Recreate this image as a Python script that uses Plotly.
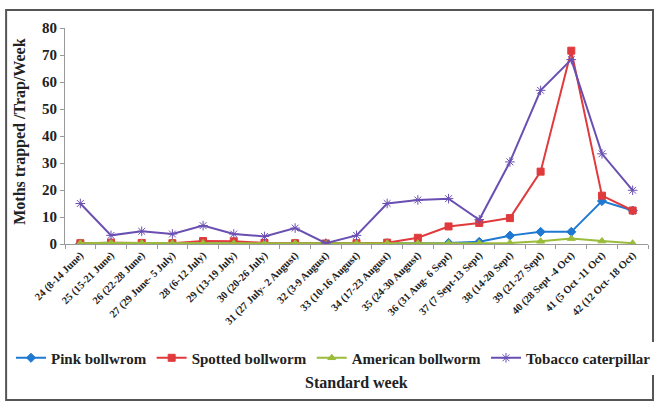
import plotly.graph_objects as go

weeks = ["24 (8-14 June)", "25 (15-21 June)", "26 (22-28 June)", "27 (29 June- 5 July)",
         "28 (6-12 July)", "29 (13-19 July)", "30 (20-26 July)", "31 (27 July- 2 August)",
         "32 (3-9 August)", "33 (10-16 August)", "34 (17-23 August)", "35 (24-30 August)",
         "36 (31 Aug- 6 Sept)", "37 (7 Sept-13 Sept)", "38 (14-20 Sept)", "39 (21-27 Sept)",
         "40 (28 Sept -4 Oct)", "41 (5 Oct -11 Oct)", "42 (12 Oct- 18 Oct)"]

pink = [0.2, 0.3, 0.2, 0.2, 0.3, 0.2, 0.2, 0.2, 0.1, 0.2, 0.3, 0.3, 0.4, 0.8, 3.1, 4.5, 4.5, 15.9, 12.4]
spotted = [0.3, 0.5, 0.4, 0.3, 1.1, 1.0, 0.4, 0.3, 0.2, 0.3, 0.5, 2.3, 6.5, 7.8, 9.6, 26.8, 71.6, 17.9, 12.4]
american = [0.3, 0.5, 0.4, 0.3, 0.4, 0.3, 0.3, 0.3, 0.2, 0.3, 0.3, 0.3, 0.3, 0.3, 0.4, 1.0, 2.0, 1.1, 0.3]
tobacco = [15, 3.2, 4.7, 3.7, 6.8, 3.7, 2.8, 5.9, 0.3, 3.2, 15, 16.3, 16.8, 9, 30.4, 56.9, 68.3, 33.4, 19.9]

font = "Liberation Serif"

fig = go.Figure()
series = [
    ("Pink bollwrom", pink, "#1f78d1", "diamond", 7),
    ("Spotted bollworm", spotted, "#e03a3c", "square", 7),
    ("American bollworm", american, "#9bbb3b", "triangle-up", 7),
    ("Tobacco caterpillar", tobacco, "#6a4fb3", "asterisk-open", 8),
]
for name, vals, col, sym, sz in series:
    fig.add_trace(go.Scatter(
        x=weeks, y=vals, name=name, mode="lines+markers",
        line=dict(color=col, width=2),
        marker=dict(symbol=sym, size=sz, color=col, line=dict(color=col, width=1)),
    ))

fig.update_layout(
    width=656, height=401,
    margin=dict(l=65, r=8, t=28, b=157),
    paper_bgcolor="white", plot_bgcolor="white",
    font=dict(family=font, color="#222222"),
    showlegend=True,
    legend=dict(orientation="h", x=-0.078, xanchor="left", y=-0.528, yanchor="middle",
                font=dict(size=15, family=font, weight="bold"),
                itemwidth=30, tracegroupgap=0),
    xaxis=dict(
        showline=True, linecolor="#999999", linewidth=1,
        ticks="outside", ticklen=4, tickcolor="#999999", tickson="boundaries",
        tickangle=-45, tickfont=dict(size=10.5, family=font, weight="bold"),
        showgrid=False, range=[-0.5, 18.5],
    ),
    yaxis=dict(
        range=[0, 80], dtick=10, showline=True, linecolor="#999999", linewidth=1,
        ticks="outside", ticklen=4, tickcolor="#999999",
        tickfont=dict(size=15, family=font, weight="bold"),
        showgrid=False, zeroline=False,
    ),
    shapes=[dict(type="rect", xref="paper", yref="paper",
                 x0=-0.101, x1=1.0086, y0=-0.722, y1=1.083,
                 line=dict(color="#555555", width=2))],
    annotations=[
        dict(text="Moths trapped /Trap/Week", xref="paper", yref="paper",
             x=-0.077, y=0.52, xanchor="center", yanchor="middle",
             textangle=-90, showarrow=False,
             font=dict(size=16, family=font, weight="bold")),
        dict(text="Standard week", xref="paper", yref="paper",
             x=0.5, y=-0.643, xanchor="center", yanchor="middle", showarrow=False,
             font=dict(size=16, family=font, weight="bold")),
    ],
)

fig.write_html("out.html", config={"displayModeBar": False},
               post_script="document.body.style.margin='0px';")
